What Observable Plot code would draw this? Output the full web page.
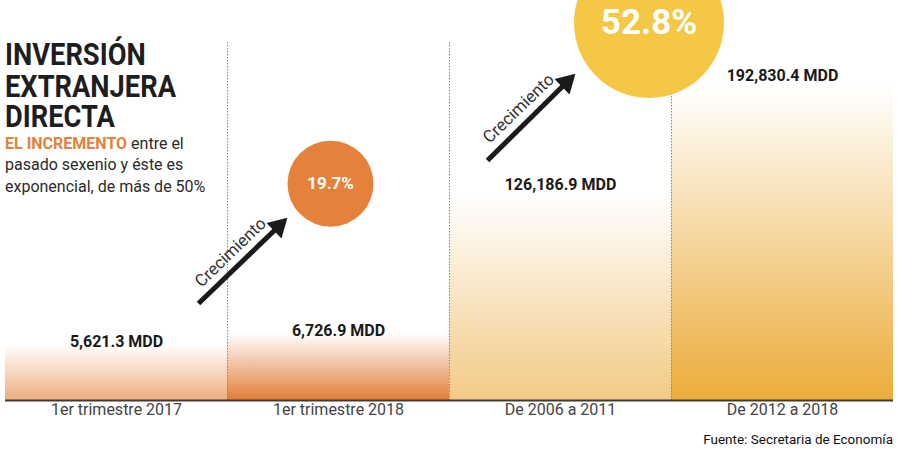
<!DOCTYPE html>
<html><head><meta charset="utf-8">
<script src="https://cdn.jsdelivr.net/npm/d3@7"></script>
<script src="https://cdn.jsdelivr.net/npm/@observablehq/plot@0.6"></script>
<style>
body{margin:0;background:#fff;font-family:Roboto, sans-serif;}
#wrap{position:relative;width:900px;height:454px;overflow:hidden;}
#charts{display:flex;}
.tl{position:absolute;left:5px;font-weight:700;font-size:31px;line-height:31px;color:#1e1e1e;transform:scaleX(0.88);transform-origin:0 0;white-space:nowrap;}
#sub{position:absolute;left:5px;top:133px;font-size:16px;line-height:21.3px;color:#2a2a2a;}
#sub b{color:#e5813b;font-weight:700}
#src{position:absolute;right:7px;top:431px;font-size:13.5px;font-weight:400;color:#111}
</style></head>
<body>
<div id="wrap">
  <div id="charts"></div>
  <div class="tl" style="top:39px">INVERSIÓN</div>
  <div class="tl" style="top:71px">EXTRANJERA</div>
  <div class="tl" style="top:101px">DIRECTA</div>
  <div id="sub"><b>EL INCREMENTO</b> entre el<br>pasado sexenio y éste es<br>exponencial, de más de 50%</div>
  <div id="src">Fuente: Secretaria de Economía</div>
</div>
<script>
// Data
const categoriesQuarter = ["1er trimestre 2017", "1er trimestre 2018"];
const valuesQuarter = [5621.3, 6726.9];
const categoriesTerm = ["De 2006 a 2011", "De 2012 a 2018"];
const valuesTerm = [126186.9, 192830.4];
const growthLabels = ["19.7%", "52.8%"];

// Styles
const barColors = ["#eeae7e", "#e17d36", "#f2ca86", "#ecac3a"];
const circleColors = ["#e5813b", "#f4c744"];

// Gradient defs
const NS = "http://www.w3.org/2000/svg";
const defsSvg = document.createElementNS(NS, "svg");
defsSvg.setAttribute("width", 0); defsSvg.setAttribute("height", 0);
defsSvg.style.position = "absolute";
const defs = document.createElementNS(NS, "defs");
barColors.forEach((c, i) => {
  const g = document.createElementNS(NS, "linearGradient");
  g.setAttribute("id", "grad" + i);
  g.setAttribute("x1", 0); g.setAttribute("y1", 0); g.setAttribute("x2", 0); g.setAttribute("y2", 1);
  [[0, "#ffffff"], [1, c]].forEach(([o, col]) => {
    const s = document.createElementNS(NS, "stop");
    s.setAttribute("offset", o); s.setAttribute("stop-color", col);
    g.appendChild(s);
  });
  defs.appendChild(g);
});
defsSvg.appendChild(defs);
document.body.appendChild(defsSvg);

const fmt = v => d3.format(",.1f")(v) + " MDD";

function panel({cats, vals, offset, width, marginLeft, marginRight, yMax, labelDy, circle, arrow, boundaries, pctSize}) {
  const data = cats.map((c, i) => ({cat: c, value: vals[i], i, fill: `url(#grad${i + offset})`}));
  return Plot.plot({
    width, height: 454, marginTop: 42, marginBottom: 54, marginLeft, marginRight,
    x: {domain: [0, cats.length], axis: null},
    y: {domain: [0, yMax], axis: null},
    color: {type: "identity"},
    r: {type: "identity"},
    style: {fontFamily: "Roboto, sans-serif", overflow: "visible", background: "transparent"},
    marks: [
      Plot.rect(data, {x1: "i", x2: d => d.i + 1, y1: 0, y2: "value", fill: "fill"}),
      Plot.ruleX(boundaries, {stroke: "#8a8a8a", strokeDasharray: "1.5,1.5"}),
      Plot.ruleY([0], {stroke: "#3b3b3b", strokeWidth: 2}),
      Plot.text(data, {x: d => d.i + 0.5, y: "value", text: d => fmt(d.value), dy: labelDy, fontSize: 16, fontWeight: "bold", fill: "#1a1a1a"}),
      Plot.text(data, {x: d => d.i + 0.5, frameAnchor: "bottom", text: "cat", dy: 14, fontSize: 16, fill: "#444"}),
      Plot.link([arrow], {x1: "x1", y1: "y1", x2: "x2", y2: "y2", stroke: "#1a1a1a", strokeWidth: 5}),
      Plot.dot([arrow], {x: "x2", y: "y2", symbol: "triangle", r: 8, rotate: 46, fill: "#1a1a1a", stroke: "none"}),
      Plot.text([arrow], {x: "tx", y: "ty", text: () => "Crecimiento", rotate: -44, fontSize: 17, fill: "#333"}),
      Plot.dot([circle], {x: "x", y: "y", r: "r", fill: "fill", stroke: "none"}),
      Plot.text([circle], {x: "x", y: "y", text: "label", fill: "white", fontWeight: "bold", fontSize: pctSize})
    ]
  });
}

const plotA = panel({
  cats: categoriesQuarter, vals: valuesQuarter, offset: 0,
  width: 449, marginLeft: 5, marginRight: 0, yMax: 36000, labelDy: -3,
  boundaries: [1],
  circle: {x: 1.464, y: 21800, r: 43, label: growthLabels[0], fill: circleColors[0]},
  arrow: {x1: 0.8694, y1: 9754, x2: 1.2297, y2: 17497, tx: 1.0135, ty: 14883},
  pctSize: 17
});
const plotB = panel({
  cats: categoriesTerm, vals: valuesTerm, offset: 2,
  width: 451, marginLeft: 0, marginRight: 7, yMax: 219000, labelDy: -9,
  boundaries: [0, 1],
  circle: {x: 0.8986, y: 231000, r: 75, label: growthLabels[1], fill: circleColors[1]},
  arrow: {x1: 0.1712, y1: 146816, x2: 0.527, y2: 194531, tx: 0.3108, ty: 178626},
  pctSize: 35
});
document.getElementById("charts").append(plotA, plotB);
</script>
</body></html>
